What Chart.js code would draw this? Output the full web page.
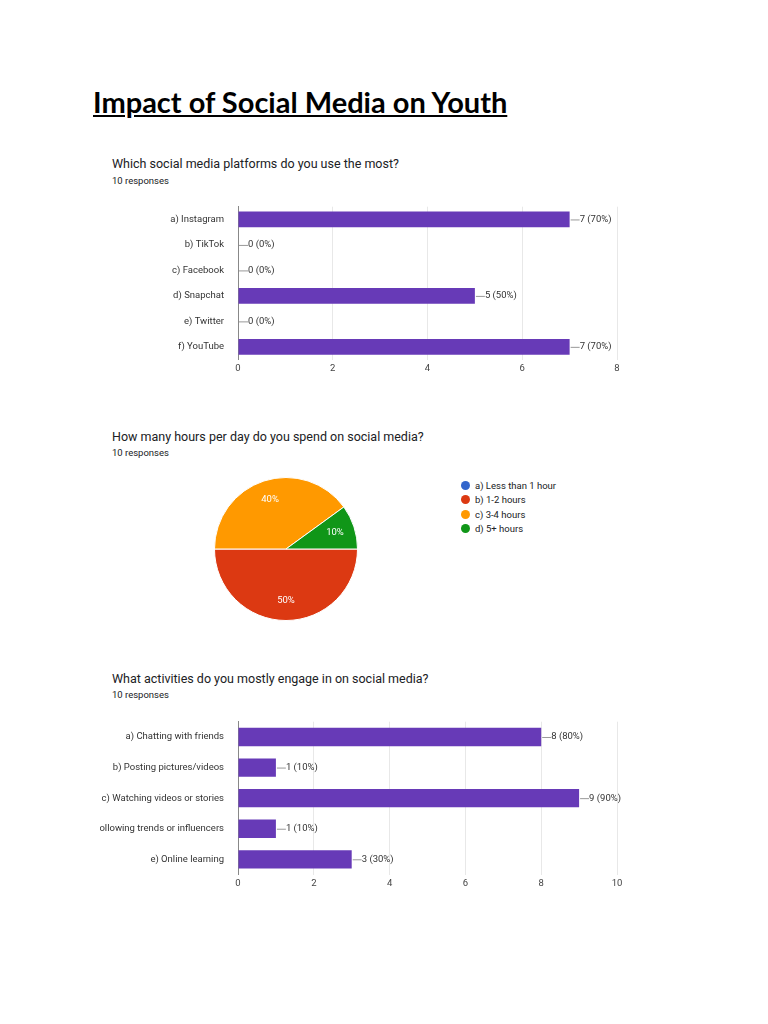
<!DOCTYPE html>
<html>
<head>
<meta charset="utf-8">
<script src="https://cdn.jsdelivr.net/npm/chart.js@4"></script>
<style>
  body { margin: 0; background: #fff; font-family: Roboto, sans-serif; }
  .page { position: relative; width: 768px; height: 1024px; }
  .abs { position: absolute; }
  h1 { position: absolute; left: 93px; top: 84px; margin: 0; font: bold 29px Lato, sans-serif; text-decoration: underline; color: #000; }
  .q { font-size: 12.5px; color: #202124; }
  .r { font-size: 9.5px; color: #202124; }
  .leg { font-size: 9.5px; color: #202124; line-height: 14.3px; }
  .leg span.dot { display: inline-block; width: 9px; height: 9px; border-radius: 50%; margin-right: 5px; vertical-align: -1px; }
</style>
</head>
<body>
<div class="page">
  <h1>Impact of Social Media on Youth</h1>

  <div class="abs q" style="left:112px;top:156px">Which social media platforms do you use the most?</div>
  <div class="abs r" style="left:112px;top:175px">10 responses</div>
  <div class="abs" style="left:100px;top:195px;width:540px;height:182px"><canvas id="c1"></canvas></div>

  <div class="abs q" style="left:112px;top:429px">How many hours per day do you spend on social media?</div>
  <div class="abs r" style="left:112px;top:447px">10 responses</div>
  <div class="abs" style="left:211px;top:474px;width:150px;height:150px"><canvas id="c2"></canvas></div>
  <div class="abs leg" id="leg" style="left:461px;top:479px"></div>

  <div class="abs q" style="left:112px;top:671px">What activities do you mostly engage in on social media?</div>
  <div class="abs r" style="left:112px;top:689px">10 responses</div>
  <div class="abs" style="left:100px;top:710px;width:540px;height:182px"><canvas id="c3"></canvas></div>
</div>
<script>
const platformLabels = ['a) Instagram', 'b) TikTok', 'c) Facebook', 'd) Snapchat', 'e) Twitter', 'f) YouTube'];
const platformValues = [7, 0, 0, 5, 0, 7];

const hoursLabels = ['a) Less than 1 hour', 'b) 1-2 hours', 'c) 3-4 hours', 'd) 5+ hours'];
const hoursValues = [0, 5, 4, 1];
const hoursColors = ['#3366cc', '#dc3912', '#ff9900', '#109618'];

const activityLabels = ['a) Chatting with friends', 'b) Posting pictures/videos', 'c) Watching videos or stories', 'd) Following trends or influencers', 'e) Online learning'];
const activityValues = [8, 1, 9, 1, 3];

const TOTAL = 10;
const PURPLE = '#673ab7';
Chart.defaults.font.family = 'Roboto, sans-serif';
Chart.defaults.color = '#444';

// value labels with a little leader line, like Google Forms
const barLabels = {
  id: 'barLabels',
  afterDatasetsDraw(chart) {
    const ctx = chart.ctx;
    const meta = chart.getDatasetMeta(0);
    const xs = chart.scales.x;
    ctx.save();
    ctx.font = '9.5px Roboto, sans-serif';
    ctx.textBaseline = 'middle';
    meta.data.forEach((bar, i) => {
      const v = chart.data.datasets[0].data[i];
      const x = xs.getPixelForValue(v);
      ctx.strokeStyle = '#999';
      ctx.lineWidth = 1;
      ctx.beginPath(); ctx.moveTo(x + 1, bar.y + 0.5); ctx.lineTo(x + 10, bar.y + 0.5); ctx.stroke();
      ctx.fillStyle = '#333';
      ctx.fillText(`${v} (${Math.round(v / TOTAL * 100)}%)`, x + 10, bar.y);
    });
    ctx.restore();
  }
};

function barChart(id, labels, values, max, pct) {
  new Chart(document.getElementById(id), {
    type: 'bar',
    data: { labels, datasets: [{ data: values, backgroundColor: PURPLE, barPercentage: pct, categoryPercentage: 1 }] },
    options: {
      indexAxis: 'y', responsive: true, maintainAspectRatio: false, animation: false,
      layout: { padding: { top: 6, right: 23 } },
      plugins: { legend: { display: false }, tooltip: { enabled: false } },
      scales: {
        x: { min: 0, max, ticks: { stepSize: 2, font: { size: 9.5 }, color: '#444' },
             grid: { color: '#e8e8e8', drawTicks: false }, border: { display: false } },
        y: { ticks: { font: { size: 9.5 }, color: '#333', padding: 6 },
             grid: { display: false }, border: { color: '#888', width: 1 },
             afterFit(s) { s.width = 138; } }
      }
    },
    plugins: [barLabels]
  });
}

barChart('c1', platformLabels, platformValues, 8, 0.62);
barChart('c3', activityLabels, activityValues, 10, 0.6);

const pieLabels = {
  id: 'pieLabels',
  afterDatasetsDraw(chart) {
    const ctx = chart.ctx;
    const meta = chart.getDatasetMeta(0);
    ctx.save();
    ctx.font = '9.5px Roboto, sans-serif';
    ctx.fillStyle = '#fff';
    ctx.textAlign = 'center'; ctx.textBaseline = 'middle';
    meta.data.forEach((arc, i) => {
      const v = hoursValues[i];
      if (!v) return;
      const mid = (arc.startAngle + arc.endAngle) / 2;
      const r = arc.outerRadius * 0.72;
      ctx.fillText(Math.round(v / TOTAL * 100) + '%', arc.x + Math.cos(mid) * r, arc.y + Math.sin(mid) * r);
    });
    ctx.restore();
  }
};

new Chart(document.getElementById('c2'), {
  type: 'pie',
  data: { labels: hoursLabels, datasets: [{ data: hoursValues, backgroundColor: hoursColors, borderColor: '#fff', borderWidth: 1 }] },
  options: {
    responsive: true, maintainAspectRatio: false, animation: false, rotation: 90,
    layout: { padding: 3 },
    plugins: { legend: { display: false }, tooltip: { enabled: false } }
  },
  plugins: [pieLabels]
});

document.getElementById('leg').innerHTML = hoursLabels
  .map((l, i) => `<div><span class="dot" style="background:${hoursColors[i]}"></span>${l}</div>`).join('');
</script>
</body>
</html>
